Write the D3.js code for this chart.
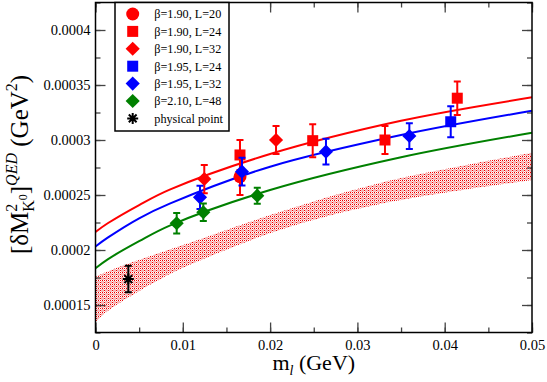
<!DOCTYPE html>
<html>
<head>
<meta charset="utf-8">
<script src="https://cdn.jsdelivr.net/npm/d3@7"></script>
<style>
body { margin: 0; background: #fff; }
text { font-family: "Liberation Serif", "Times New Roman", serif; }
</style>
</head>
<body>
<div id="chart"></div>
<script>
// fit curves
var curveX = [0, 0.0014, 0.005, 0.0085, 0.02, 0.035, 0.05];
var fitRed = [0.0002164, 0.0002243, 0.0002409, 0.0002549, 0.0002873, 0.0003175, 0.0003388];
var fitBlue = [0.0002032, 0.0002112, 0.0002288, 0.0002421, 0.0002757, 0.0003045, 0.0003266];
var fitGreen = [0.0001834, 0.0001915, 0.000208, 0.0002222, 0.0002545, 0.0002843, 0.0003066];

// continuum band
var bandX = [0, 0.0014, 0.0037, 0.0074, 0.0108, 0.0211, 0.0326, 0.05];
var bandLo = [0.0001345, 0.0001445, 0.0001565, 0.0001735, 0.0001865, 0.0002182, 0.0002418, 0.0002636];
var bandHi = [0.0001757, 0.0001805, 0.0001875, 0.0001975, 0.0002065, 0.0002345, 0.000261, 0.0002884];

// lattice points: [m_l, value, error]
var b190L20 = [[0.01655, 0.0002666, 0.0000167]];
var b190L24 = [[0.01655, 0.0002864, 0.0000136], [0.02488, 0.0002994, 0.000015], [0.03316, 0.0003, 0.0000127], [0.04144, 0.000338, 0.0000152]];
var b190L32 = [[0.01246, 0.0002645, 0.0000128], [0.02068, 0.0003, 0.0000127]];
var b195L24 = [[0.04069, 0.0003166, 0.0000141]];
var b195L32 = [[0.01197, 0.0002479, 0.0000106], [0.01678, 0.0002712, 0.0000126], [0.0264, 0.0002894, 0.0000117], [0.03595, 0.0003036, 0.0000117]];
var b210L48 = [[0.0093, 0.0002243, 0.0000094], [0.01235, 0.0002343, 0.000008], [0.01853, 0.0002494, 0.0000073]];
var physPoint = [[0.00376, 0.0001736, 0.0000121]];

var legendLabels = ["\u03b2=1.90, L=20", "\u03b2=1.90, L=24", "\u03b2=1.90, L=32", "\u03b2=1.95, L=24", "\u03b2=1.95, L=32", "\u03b2=2.10, L=48", "physical point"];

var xTicks = [0, 0.01, 0.02, 0.03, 0.04, 0.05];
var yTicks = [0.00015, 0.0002, 0.00025, 0.0003, 0.00035, 0.0004];

var width = 547, height = 382;
var margin = { top: 2.5, right: 15, bottom: 49.5, left: 95.5 };
var serif = "'Liberation Serif', 'Times New Roman', serif";

var svg = d3.select("#chart").append("svg")
    .attr("width", width)
    .attr("height", height);

var x = d3.scaleLinear().domain([0, 0.05]).range([margin.left, width - margin.right]);
var y = d3.scaleLinear().domain([0.000125, 0.000425]).range([height - margin.bottom, margin.top]);

// hatch pattern for the band
var defs = svg.append("defs");
var pat = defs.append("pattern")
    .attr("id", "hatch")
    .attr("patternUnits", "userSpaceOnUse")
    .attr("width", 4).attr("height", 4);
pat.append("rect").attr("width", 4).attr("height", 4).attr("fill", "#fff");
pat.append("rect").attr("x", 1).attr("y", 1).attr("width", 3).attr("height", 3).attr("fill", "#f8b8b8");
[[0, 0], [2, 0], [0, 2]].forEach(function (p) {
    pat.append("rect").attr("x", p[0]).attr("y", p[1]).attr("width", 1).attr("height", 1).attr("fill", "#ee0000");
});

var band = d3.area()
    .x(function (d, i) { return x(bandX[i]); })
    .y0(function (d, i) { return y(bandLo[i]); })
    .y1(function (d, i) { return y(bandHi[i]); })
    .curve(d3.curveCatmullRom);

svg.append("path")
    .datum(bandX)
    .attr("d", band)
    .attr("fill", "url(#hatch)");

// fit lines
var line = d3.line()
    .x(function (d) { return x(d[0]); })
    .y(function (d) { return y(d[1]); })
    .curve(d3.curveCatmullRom);

[[fitRed, "#ff0000"], [fitBlue, "#0000ff"], [fitGreen, "#008000"]].forEach(function (f) {
    svg.append("path")
        .datum(curveX.map(function (v, i) { return [v, f[0][i]]; }))
        .attr("d", line)
        .attr("fill", "none")
        .attr("stroke", f[1])
        .attr("stroke-width", 2);
});

// axes: ticks inward on all four sides
var innerW = width - margin.left - margin.right;
var innerH = height - margin.top - margin.bottom;
var xMinor = d3.range(0, 0.0501, 0.005);
var yMinor = d3.range(0.000125, 0.000426, 0.000025);

function fmt(d) { return String(+d.toFixed(6)); }

svg.append("g")
    .attr("transform", "translate(0," + (height - margin.bottom) + ")")
    .call(d3.axisBottom(x).tickValues(xTicks).tickFormat(fmt).tickSizeInner(-10).tickSizeOuter(0).tickPadding(7));
svg.append("g")
    .attr("transform", "translate(0," + (height - margin.bottom) + ")")
    .call(d3.axisBottom(x).tickValues(xMinor).tickFormat("").tickSizeInner(-5).tickSizeOuter(0));
svg.append("g")
    .attr("transform", "translate(0," + margin.top + ")")
    .call(d3.axisTop(x).tickValues(xTicks).tickFormat("").tickSizeInner(-10).tickSizeOuter(0));
svg.append("g")
    .attr("transform", "translate(0," + margin.top + ")")
    .call(d3.axisTop(x).tickValues(xMinor).tickFormat("").tickSizeInner(-5).tickSizeOuter(0));

svg.append("g")
    .attr("transform", "translate(" + margin.left + ",0)")
    .call(d3.axisLeft(y).tickValues(yTicks).tickFormat(fmt).tickSizeInner(-10).tickSizeOuter(0).tickPadding(5));
svg.append("g")
    .attr("transform", "translate(" + margin.left + ",0)")
    .call(d3.axisLeft(y).tickValues(yMinor).tickFormat("").tickSizeInner(-5).tickSizeOuter(0));
svg.append("g")
    .attr("transform", "translate(" + (width - margin.right) + ",0)")
    .call(d3.axisRight(y).tickValues(yTicks).tickFormat("").tickSizeInner(-10).tickSizeOuter(0));
svg.append("g")
    .attr("transform", "translate(" + (width - margin.right) + ",0)")
    .call(d3.axisRight(y).tickValues(yMinor).tickFormat("").tickSizeInner(-5).tickSizeOuter(0));

svg.selectAll(".domain").remove();
svg.selectAll(".tick line").attr("stroke", "#444").attr("stroke-width", 1.3);
svg.selectAll(".tick").select("text")
    .attr("fill", "#000")
    .attr("font-family", serif)
    .attr("font-size", "14.5px")
    .style("font-family", serif);

svg.append("rect")
    .attr("x", margin.left).attr("y", margin.top)
    .attr("width", innerW).attr("height", innerH)
    .attr("fill", "none").attr("stroke", "#000").attr("stroke-width", 1.5);

// data points
var symCircle = d3.symbol(d3.symbolCircle, 133);
var symSquare = d3.symbol(d3.symbolSquare, 121);
var symDiamond = d3.symbol(d3.symbolSquare, 100);

function starPath(r) {
    var a = r * Math.SQRT1_2;
    return "M" + (-r) + ",0L" + r + ",0M0," + (-r) + "L0," + r +
        "M" + (-a) + "," + (-a) + "L" + a + "," + a + "M" + (-a) + "," + a + "L" + a + "," + (-a);
}

var series = [
    { data: b190L20, color: "#ff0000", shape: "circle" },
    { data: b190L24, color: "#ff0000", shape: "square" },
    { data: b190L32, color: "#ff0000", shape: "diamond" },
    { data: b195L24, color: "#0000ff", shape: "square" },
    { data: b195L32, color: "#0000ff", shape: "diamond" },
    { data: b210L48, color: "#008000", shape: "diamond" },
    { data: physPoint, color: "#000000", shape: "star" }
];

function drawMarker(g, shape, color) {
    if (shape == "star") {
        g.append("path").attr("d", starPath(5.5)).attr("stroke", color).attr("stroke-width", 2).attr("fill", "none");
    } else if (shape == "diamond") {
        g.append("path").attr("d", symDiamond()).attr("transform", "rotate(45)").attr("fill", color);
    } else if (shape == "square") {
        g.append("path").attr("d", symSquare()).attr("fill", color);
    } else {
        g.append("path").attr("d", symCircle()).attr("fill", color);
    }
}

series.forEach(function (s) {
    var pts = svg.selectAll(null)
        .data(s.data)
      .enter().append("g")
        .attr("transform", function (d) { return "translate(" + x(d[0]) + "," + y(d[1]) + ")"; });
    pts.append("path")
        .attr("d", function (d) {
            var t = y(d[1] + d[2]) - y(d[1]), b = y(d[1] - d[2]) - y(d[1]);
            return "M0," + t + "L0," + b + "M-3.5," + t + "L3.5," + t + "M-3.5," + b + "L3.5," + b;
        })
        .attr("stroke", s.color)
        .attr("stroke-width", 2)
        .attr("fill", "none");
    pts.each(function () { drawMarker(d3.select(this), s.shape, s.color); });
});

// legend
var lg = svg.append("g");
lg.append("rect")
    .attr("x", 115).attr("y", 2.5)
    .attr("width", 114).attr("height", 128.5)
    .attr("fill", "#fff").attr("stroke", "#000").attr("stroke-width", 1.5);
var items = lg.selectAll(".legend")
    .data(series)
  .enter().append("g")
    .attr("class", "legend")
    .attr("transform", function (d, i) { return "translate(132.7," + (14 + i * 17.4) + ")"; });
items.each(function (d) { drawMarker(d3.select(this), d.shape, d.color); });
items.append("text")
    .attr("x", 21.6)
    .attr("y", 4.3)
    .style("font-size", "12.2px")
    .text(function (d, i) { return legendLabels[i]; });

// axis titles
var xt = svg.append("text")
    .attr("x", (margin.left + width - margin.right) / 2)
    .attr("y", 370)
    .attr("text-anchor", "middle")
    .style("font-size", "22px");
xt.append("tspan").text("m");
xt.append("tspan").attr("dy", 5).style("font-size", "14px").style("font-style", "italic").text("l");
xt.append("tspan").attr("dy", -5).text(" (GeV)");

var yt = svg.append("text")
    .attr("transform", "translate(28," + (margin.top + innerH / 2 - 3) + ") rotate(-90)")
    .attr("text-anchor", "middle")
    .style("font-size", "25px");
yt.append("tspan").text("[\u03b4M");
yt.append("tspan").attr("dy", -11).style("font-size", "16px").text("2");
yt.append("tspan").attr("dx", -8).attr("dy", 17).style("font-size", "16px").text("K");
yt.append("tspan").attr("dy", -7).style("font-size", "12px").text("0");
yt.append("tspan").attr("dy", 1).text("]");
yt.append("tspan").attr("dy", -11).style("font-size", "16px").style("font-style", "italic").text("QED");
yt.append("tspan").attr("dy", 11).text(" (GeV");
yt.append("tspan").attr("dy", -11).style("font-size", "16px").text("2");
yt.append("tspan").attr("dy", 11).text(")");
</script>
</body>
</html>
